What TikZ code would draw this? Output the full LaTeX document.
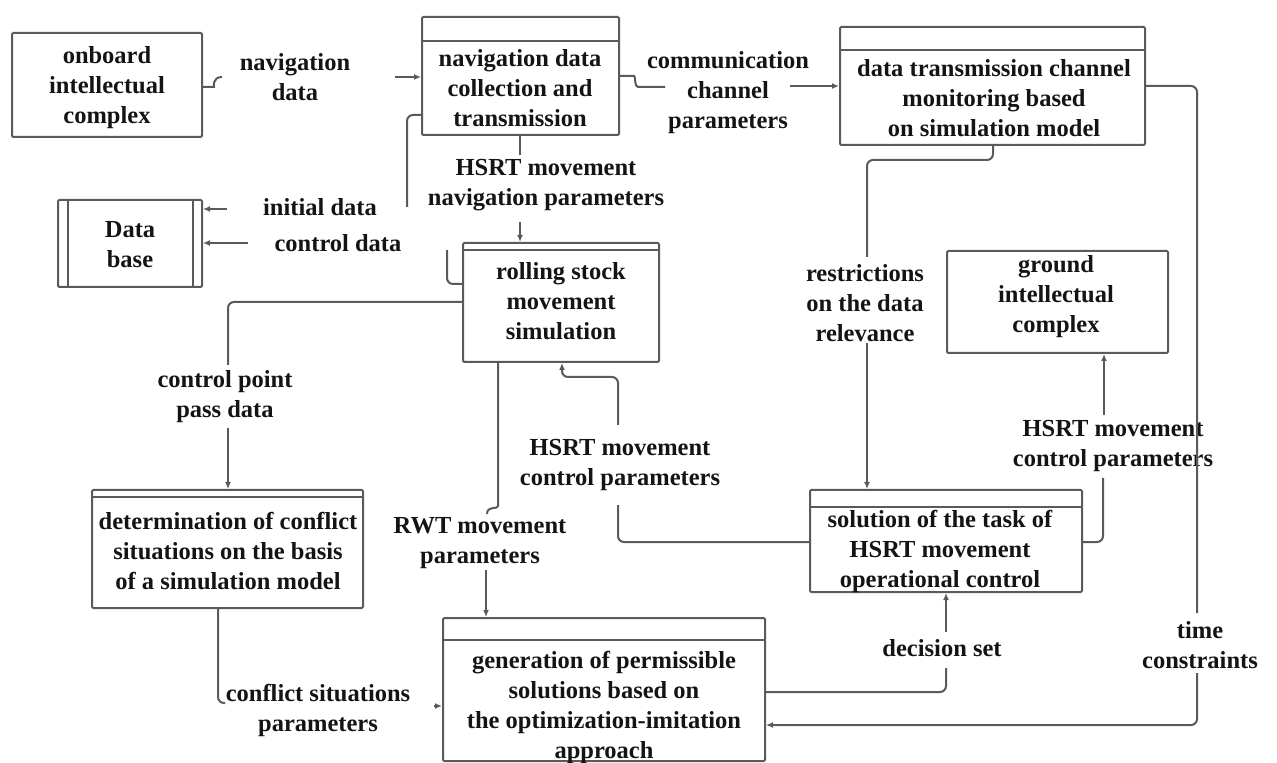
\documentclass[tikz,border=0pt]{standalone}
\usepackage{fontspec}
\setmainfont{Liberation Serif}[BoldFont={Liberation Serif Bold}]
\usetikzlibrary{arrows.meta,fit}
\definecolor{linegray}{HTML}{5A5A5A}
\definecolor{inkblack}{HTML}{141414}
\begin{document}
\begin{tikzpicture}[x=0.5pt,y=-0.5pt,
  box/.style={draw=linegray,line width=1pt,inner sep=0pt,rounded corners=0.6pt},
  rule/.style={draw=linegray,line width=1pt},
  txt/.style={align=center,text=inkblack,inner sep=0pt,
    font=\fontsize{12.25}{15}\selectfont\bfseries},
  conn/.style={draw=linegray,line width=1pt,rounded corners=3pt},
  arr/.style={conn,-{Latex[length=3.5pt,width=3pt]}}]
\useasboundingbox (0,0) rectangle (1277,763);

% process boxes
\node[box,fit={(12,33) (202,137)}] (A) {};
\node[box,fit={(422,17) (619,135)}] (B) {};
\node[box,fit={(840,27) (1145,145)}] (C) {};
\node[box,fit={(58,200) (202,287)}] (DB) {};
\node[box,fit={(463,243) (659,362)}] (D) {};
\node[box,fit={(947,251) (1168,353)}] (E) {};
\node[box,fit={(92,490) (363,608)}] (F) {};
\node[box,fit={(810,490) (1082,592)}] (G) {};
\node[box,fit={(443,618) (765,761)}] (H) {};

% header strips and data store edges
\draw[rule] (B.west |- 0,41) -- (B.east |- 0,41);
\draw[rule] (C.west |- 0,50) -- (C.east |- 0,50);
\draw[rule] (D.west |- 0,250) -- (D.east |- 0,250);
\draw[rule] (F.west |- 0,497) -- (F.east |- 0,497);
\draw[rule] (G.west |- 0,507) -- (G.east |- 0,507);
\draw[rule] (H.west |- 0,640) -- (H.east |- 0,640);
\draw[rule] (DB.north -| 68,0) -- (DB.south -| 68,0);
\draw[rule] (DB.north -| 193,0) -- (DB.south -| 193,0);

% box texts
\node[txt] (At) at (107,88) {onboard\\intellectual\\complex};
\node[txt] (Bt) at (520,88) {navigation data\\collection and\\transmission};
\node[txt] (Ct) at (994,98) {data transmission channel\\monitoring based\\on simulation model};
\node[txt] (DBt) at (130,245) {Data\\base};
\node[txt] (Dt) at (561,301) {rolling stock\\movement\\simulation};
\node[txt] (Et) at (1056,297) {ground\\intellectual\\complex};
\node[txt] (Ft) at (228,551) {determination of conflict\\situations on the basis\\of a simulation model};
\node[txt] (Gt) at (940,551) {solution of the task of\\HSRT movement\\operational control};
\node[txt] (Ht) at (604,707) {generation of permissible\\solutions based on\\the optimization-imitation\\approach};

% flow labels
\node[txt] (l1) at (295,77) {navigation\\data};
\node[txt] (l2) at (728,93) {communication\\channel\\parameters};
\node[txt] (l3) at (546,185) {HSRT movement\\navigation parameters};
\node[txt] (l4) at (320,207) {initial data};
\node[txt] (l5) at (338,243) {control data};
\node[txt] (l6) at (225,397) {control point\\pass data};
\node[txt] (l7) at (865,303) {restrictions\\on the data\\relevance};
\node[txt] (l8) at (620,465) {HSRT movement\\control parameters};
\node[txt] (l9) at (480,543) {RWT movement\\parameters};
\node[txt] (l10) at (1113,446) {HSRT movement\\control parameters};
\node[txt] (l11) at (1200,645) {time\\constraints};
\node[txt] (l12) at (942,648) {decision set};
\node[txt] (l13) at (318,710) {conflict situations\\parameters};

% navigation data
\draw[conn] (A.east |- 0,87) -- (208,87) .. controls (214,87) and (212,77) .. (222,77);
\draw[arr] (395,77) -- (B.west |- 0,77);
% communication channel parameters
\draw[conn] (B.east |- 0,76) -- (628,76) .. controls (636,76) and (634,87) .. (644,87) -- (665,87);
\draw[arr] (790,86) -- (C.west |- 0,86);
% navigation parameters
\draw[conn] (B.south -| 520,0) -- (520,155);
\draw[arr] (520,222) -- (D.north -| 520,0);
% initial data
\draw[conn] (B.west |- 0,115) -- (407,115) -- (407,207);
\draw[arr] (227,209) -- (DB.east |- 0,209);
% control data
\draw[conn] (D.west |- 0,284) -- (447,284) -- (447,250);
\draw[arr] (248,243) -- (DB.east |- 0,243);
% control point pass data
\draw[conn] (D.west |- 0,302) -- (228,302) -- (228,365);
\draw[arr] (228,428) -- (F.north -| 228,0);
% RWT movement parameters
\draw[conn] (D.south -| 498,0) -- (498,500) .. controls (498,510) and (487,505) .. (487,514);
\draw[arr] (486,570) -- (H.north -| 486,0);
% control parameters back to the simulation
\draw[conn] (G.west |- 0,542) -- (618,542) -- (618,505);
\draw[arr] (618,425) -- (618,377) -- (562,377) -- (D.south -| 562,0);
% restrictions on the data relevance
\draw[conn] (C.south -| 993,0) -- (993,160) -- (867,160) -- (867,257);
\draw[arr] (867,343) -- (G.north -| 867,0);
% control parameters to the ground complex
\draw[conn] (G.east |- 0,542) -- (1103,542) -- (1103,478);
\draw[arr] (1104,415) -- (E.south -| 1104,0);
% time constraints
\draw[conn] (C.east |- 0,86) -- (1197,86) -- (1197,613);
\draw[arr] (1197,673) -- (1197,725) -- (H.east |- 0,725);
% decision set
\draw[conn] (H.east |- 0,692) -- (946,692) -- (946,668);
\draw[arr] (946,632) -- (G.south -| 946,0);
% conflict situations parameters
\draw[conn] (F.south -| 218,0) -- (218,703) -- (225,703);
\draw[arr] (434,706) -- (H.west |- 0,706);
\end{tikzpicture}
\end{document}
